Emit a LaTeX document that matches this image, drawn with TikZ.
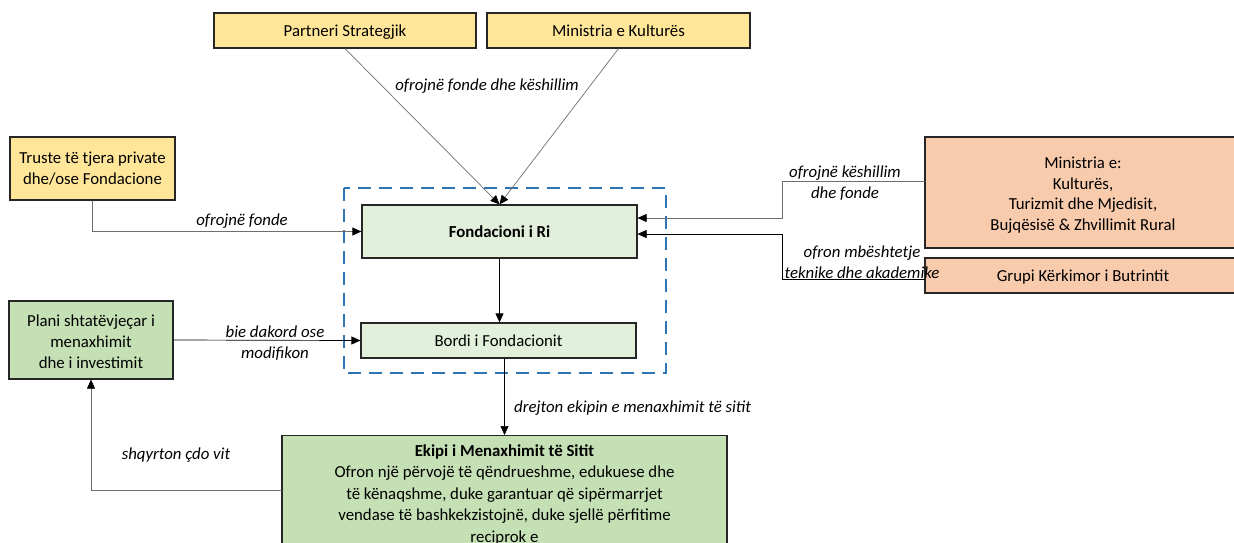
\documentclass[tikz,border=0pt]{standalone}
\usepackage{fontspec}
\setmainfont{Carlito}
\usetikzlibrary{arrows.meta,positioning,calc}
\definecolor{yel}{RGB}{255,230,153}
\definecolor{sal}{RGB}{248,203,173}
\definecolor{lgr}{RGB}{226,239,218}
\definecolor{mgr}{RGB}{197,224,180}
\definecolor{dblue}{RGB}{46,117,182}
\definecolor{gline}{RGB}{110,110,110}
\begin{document}
\begin{tikzpicture}[x=1pt,y=-1pt,
  box/.style={draw=black!85,line width=1.2pt,align=center,inner sep=2pt,font=\fontsize{16.8}{20.7}\selectfont},
  one/.style={text height=16pt,text depth=4pt},
  lbl/.style={font=\fontsize{16.8}{20.5}\selectfont\itshape,align=center,inner sep=1pt},
  arr/.style={-{Triangle[length=9pt,width=8pt,color=black]},line width=0.7pt},
  garr/.style={arr,draw=gline},
  barr/.style={arr,draw=black}]
\useasboundingbox (0,0) rectangle (1234,542);
\clip (0,0) rectangle (1234,542);
% dashed container
\draw[dblue,line width=2pt,dash pattern=on 13pt off 8pt] (344,188) rectangle (666,373);
% nodes
\node[box,one,fill=yel,minimum width=262pt,minimum height=35pt] (ps) at (345,30.5) {Partneri Strategjik};
\node[box,one,fill=yel,minimum width=263pt,minimum height=35pt] (mk) at (618.5,30.5) {Ministria e Kulturës};
\node[box,fill=yel,minimum width=165pt,minimum height=63pt] (ts) at (92.5,168.5) {Truste të tjera private\\dhe/ose Fondacione};
\node[box,fill=mgr,minimum width=164pt,minimum height=78pt] (pl) at (91,340) {\rule{0pt}{15pt}Plani shtatëvjeçar i\\menaxhimit\\dhe i investimit};
\node[box,one,fill=lgr,minimum width=275pt,minimum height=53pt,font=\fontsize{16.8}{20.7}\selectfont\bfseries] (fr) at (499.5,231.5) {Fondacioni i Ri};
\node[box,one,fill=lgr,minimum width=275pt,minimum height=35pt] (bd) at (498.5,340.5) {Bordi i Fondacionit};
\node[box,fill=sal,minimum width=316pt,minimum height=111pt] (me) at (1083,192.5) {\rule{0pt}{17pt}Ministria e:\\Kulturës,\\Turizmit dhe Mjedisit,\\Bujqësisë \& Zhvillimit Rural};
\node[box,one,fill=sal,minimum width=316pt,minimum height=35pt] (gr) at (1083,275.5) {Grupi Kërkimor i Butrintit};
\node[box,fill=mgr,minimum width=445pt,minimum height=130pt,anchor=north] (ek) at (504.5,435) {};
\node[font=\fontsize{16.8}{21.6}\selectfont,align=center,anchor=north,inner sep=0pt] (ekt) at (504.5,444) {\textbf{Ekipi i Menaxhimit të Sitit}\\Ofron një përvojë të qëndrueshme, edukuese dhe\\të kënaqshme, duke garantuar që sipërmarrjet\\vendase të bashkekzistojnë, duke sjellë përfitime\\reciprok e};
% coordinates
\coordinate (mel) at (925,181);
\coordinate (mej) at (782,218);
\coordinate (grl) at (925,279);
\coordinate (grj) at (782,234);
\coordinate (ekl) at (282,490);
% connectors
\draw[garr] (ps.south) -- (fr.north);
\draw[garr] (mk.south) -- (fr.north);
\draw[garr] (ts.south) |- (fr.west);
\draw[barr] (pl.east) -- (bd.west);
\draw[barr] (fr.south) -- (fr.south |- bd.north);
\draw[barr] (bd.south -| ek.north) -- (ek.north);
\draw[garr] (ekl) -| (pl.south);
\draw[garr] (mel) -| (mej) -- (mej -| fr.east);
\draw[barr] (grl) -| (grj) -- (grj -| fr.east);
% labels
\node[lbl] (l1) at (487,86) {ofrojnë fonde dhe këshillim};
\node[lbl] (l2) at (242,221) {ofrojnë fonde};
\node[lbl] (l3) at (275,343) {bie dakord ose\\modifikon};
\node[lbl] (l4) at (176,455) {shqyrton çdo vit};
\node[lbl,anchor=west] (l5) at (513,408) {drejton ekipin e menaxhimit të sitit};
\node[lbl] (l6) at (845,183) {ofrojnë këshillim\\dhe fonde};
\node[lbl] (l7) at (862,262) {ofron mbështetje\\teknike dhe akademike};
\end{tikzpicture}
\end{document}
